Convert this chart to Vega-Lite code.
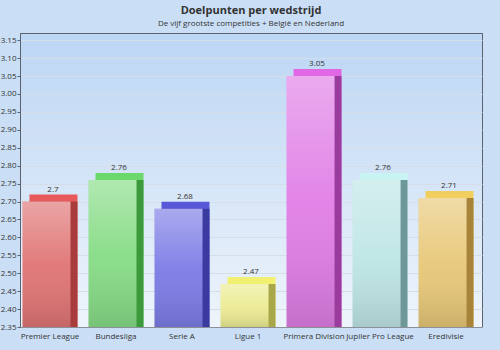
{
  "$schema": "https://vega.github.io/schema/vega-lite/v6.json",
  "autosize": {"type": "none"},
  "width": 462,
  "height": 294,
  "padding": {"left": 20, "top": 33, "right": 18, "bottom": 23},
  "background": "#cadff6",
  "title": {
    "text": "Doelpunten per wedstrijd",
    "subtitle": "De vijf grootste competities + België en Nederland",
    "anchor": "middle",
    "offset": 5,
    "font": "Open Sans",
    "fontSize": 11,
    "fontWeight": "bold",
    "color": "#333333",
    "subtitleFont": "Open Sans",
    "subtitleFontSize": 8,
    "subtitleColor": "#333333",
    "subtitlePadding": 4
  },
  "config": {
    "view": {
      "stroke": "#5a6270",
      "strokeWidth": 1,
      "fill": {"gradient": "linear", "x1": 0, "y1": 0, "x2": 0, "y2": 1, "stops": [{"offset": 0, "color": "#bcd6f4"}, {"offset": 1, "color": "#eef4fb"}]}
    },
    "font": "Open Sans"
  },
  "data": {
    "values": [
      {"competitie": "Premier League", "doelpunten": 2.7},
      {"competitie": "Bundesliga", "doelpunten": 2.76},
      {"competitie": "Serie A", "doelpunten": 2.68},
      {"competitie": "Ligue 1", "doelpunten": 2.47},
      {"competitie": "Primera Division", "doelpunten": 3.05},
      {"competitie": "Jupiler Pro League", "doelpunten": 2.76},
      {"competitie": "Eredivisie", "doelpunten": 2.71}
    ]
  },
  "encoding": {
    "x": {
      "field": "competitie",
      "type": "nominal",
      "sort": null,
      "scale": {"paddingInner": 0.273, "paddingOuter": 0.136},
      "axis": {"title": null, "labelAngle": 0, "ticks": false, "domain": true, "domainColor": "#8a8f98", "labelFontSize": 8, "labelColor": "#333333", "labelPadding": 5, "labelFont": "Open Sans", "labelOffset": -3, "labelOverlap": false}
    },
    "y": {
      "field": "doelpunten",
      "type": "quantitative",
      "scale": {"domain": [2.35, 3.17], "zero": false, "nice": false},
      "axis": {
        "title": null,
        "values": [2.35, 2.4, 2.45, 2.5, 2.55, 2.6, 2.65, 2.7, 2.75, 2.8, 2.85, 2.9, 2.95, 3.0, 3.05, 3.1, 3.15],
        "format": ".2f",
        "labelFontSize": 8,
        "labelColor": "#333333",
        "labelFont": "Open Sans",
        "domainColor": "#5a6270",
        "tickColor": "#5a6270",
        "tickSize": 3,
        "labelPadding": 1,
        "gridColor": "#d4dde8",
        "gridWidth": 1
      }
    },
    "y2": {"datum": 2.35}
  },
  "resolve": {"scale": {"color": "independent"}},
  "layer": [
    {
      "mark": {"type": "bar", "xOffset": 0.5, "yOffset": -7},
      "encoding": {
        "color": {"field": "competitie", "type": "nominal", "sort": null, "legend": null,
          "scale": {"domain": ["Premier League", "Bundesliga", "Serie A", "Ligue 1", "Primera Division", "Jupiler Pro League", "Eredivisie"],
            "range": ["#e85a5a", "#6ad86a", "#5858d8", "#f2f070", "#e068e4", "#c8f4f4", "#f2ce5e"]}}
      }
    },
    {
      "mark": {"type": "bar", "xOffset": 0.5},
      "encoding": {
        "color": {"field": "competitie", "type": "nominal", "sort": null, "legend": null,
          "scale": {"domain": ["Premier League", "Bundesliga", "Serie A", "Ligue 1", "Primera Division", "Jupiler Pro League", "Eredivisie"],
            "range": ["#a83c3c", "#3c9a3c", "#3a3aa0", "#a8a84a", "#9a3c9e", "#6e9898", "#a8843a"]}}
      }
    },
    {
      "mark": {"type": "bar", "xOffset": -6.5},
      "encoding": {
        "color": {"field": "competitie", "type": "nominal", "sort": null, "legend": null,
          "scale": {"domain": ["Premier League", "Bundesliga", "Serie A", "Ligue 1", "Primera Division", "Jupiler Pro League", "Eredivisie"],
            "range": ["#e07474", "#86dc86", "#7c7ce6", "#ecec94", "#e07ee6", "#bfe6e6", "#e8c878"]}}
      }
    },
    {
      "mark": {
        "type": "bar",
        "xOffset": -6.5,
        "fill": {"gradient": "linear", "x1": 0, "y1": 0, "x2": 0, "y2": 1, "stops": [{"offset": 0, "color": "rgba(255,255,255,0.35)"}, {"offset": 0.5, "color": "rgba(255,255,255,0.05)"}, {"offset": 1, "color": "rgba(0,0,0,0.12)"}]}
      }
    },
    {
      "mark": {"type": "text", "dy": -12, "dx": 0, "fontSize": 8, "color": "#333333", "font": "Open Sans"},
      "encoding": {"text": {"field": "doelpunten", "type": "quantitative"}, "y2": null}
    }
  ]
}
